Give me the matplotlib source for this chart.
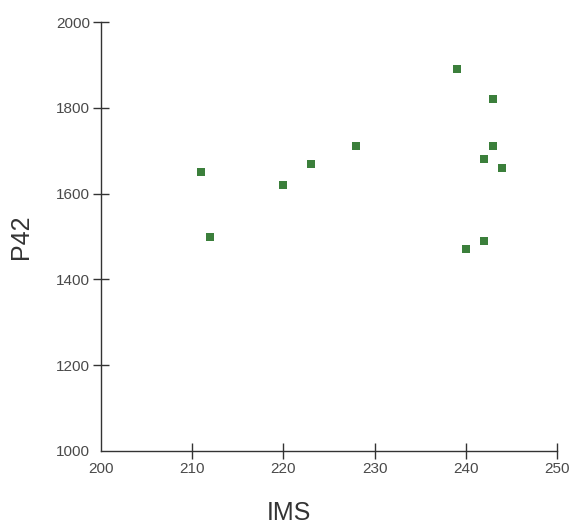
import matplotlib
matplotlib.use("Agg")
import matplotlib.pyplot as plt

# values
ims = [211, 212, 220, 223, 228, 239, 243, 243, 242, 244, 242, 240]
p42 = [1650, 1500, 1620, 1670, 1710, 1890, 1820, 1710, 1680, 1660, 1490, 1470]

x_ticks = [200, 210, 220, 230, 240, 250]
y_ticks = [1000, 1200, 1400, 1600, 1800, 2000]

plt.rcParams["font.family"] = ["Liberation Sans", "DejaVu Sans"]

fig = plt.figure(figsize=(5.71, 5.24), dpi=100)
ax = fig.add_axes([101 / 571, 1 - 451 / 524, 456 / 571, 429 / 524])

ax.scatter(ims, p42, marker="s", s=26, color="#3b7f3b", linewidths=0, zorder=3)

ax.set_xlim(200, 250)
ax.set_ylim(1000, 2000)
ax.set_xticks(x_ticks)
ax.set_yticks(y_ticks)

for side in ["top", "right"]:
    ax.spines[side].set_visible(False)
for side in ["left", "bottom"]:
    ax.spines[side].set_color("#333333")
    ax.spines[side].set_linewidth(1.0)

ax.tick_params(direction="inout", length=12, width=1.0, color="#333333",
               labelsize=11, labelcolor="#4a4a4a", pad=2)

# the corner ticks are hidden by the other axis in the reference
ax.xaxis.get_major_ticks()[0].tick1line.set_visible(False)
ax.yaxis.get_major_ticks()[0].tick1line.set_visible(False)

fig.text(289 / 571, 1 - 513 / 524, "IMS", fontsize=18, color="#333333",
         ha="center", va="center")
ax.set_ylabel("P42", fontsize=18, color="#333333")
ax.yaxis.set_label_coords(-0.149, 0.5)

fig.savefig("out.png", dpi=100)
